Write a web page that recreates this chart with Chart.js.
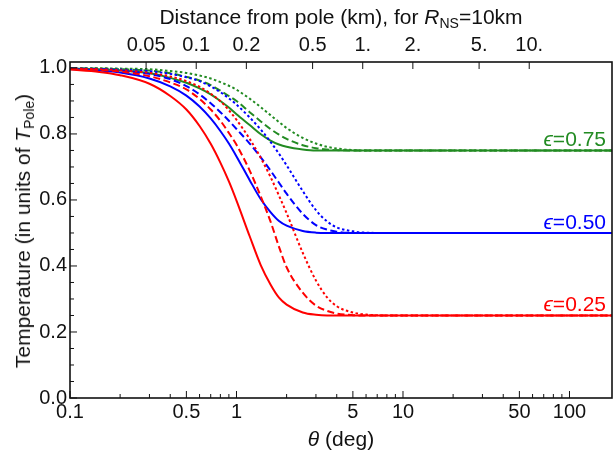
<!DOCTYPE html>
<html>
<head>
<meta charset="utf-8">
<script src="https://cdn.jsdelivr.net/npm/chart.js@4.4.1/dist/chart.umd.min.js"></script>
<style>
  body { margin: 0; background: #fff; }
  #wrap { position: relative; width: 613px; height: 451px; overflow: hidden; font-family: "Liberation Sans", Arial, sans-serif; color: #111; }
  canvas { position: absolute; left: 0; top: 0; }
  .title { position: absolute; font-size: 21px; white-space: nowrap; text-align: center; line-height: 24px; }
  .title sub { font-size: 14px; vertical-align: -4px; line-height: 0; }
  #top-title { left: 70px; width: 542px; top: 5px; }
  #bottom-title { left: 70px; width: 542px; top: 427px; }
  #left-title { left: 23px; top: 231px; transform: translate(-50%, -50%) rotate(-90deg); }
</style>
</head>
<body>
<div id="wrap">
  <canvas id="chart" width="613" height="451"></canvas>
  <div class="title" id="top-title">Distance from pole (km), for <i>R</i><sub>NS</sub>=10km</div>
  <div class="title" id="bottom-title"><i>θ</i> (deg)</div>
  <div class="title" id="left-title">Temperature (in units of <i>T</i><sub>Pole</sub>)</div>
</div>
<script>
// polar angle in degrees (shared by all curves)
const theta = [0.1, 0.15, 0.2, 0.3, 0.4, 0.5, 0.6, 0.7, 0.8, 0.9, 1, 1.2, 1.4, 1.6, 1.8, 2, 2.5, 3, 3.5, 4, 5, 6, 8, 10, 20, 50, 100, 180];

// eps = 0.25 (red)
const redSolid  = [0.995, 0.988, 0.978, 0.952, 0.915, 0.874, 0.824, 0.77, 0.713, 0.656, 0.598, 0.49, 0.402, 0.344, 0.304, 0.283, 0.259, 0.252, 0.25, 0.25, 0.25, 0.25, 0.25, 0.25, 0.25, 0.25, 0.25, 0.25];
const redDashed = [0.997, 0.994, 0.989, 0.975, 0.956, 0.935, 0.906, 0.874, 0.84, 0.803, 0.767, 0.689, 0.61, 0.535, 0.458, 0.396, 0.319, 0.28, 0.264, 0.256, 0.251, 0.25, 0.25, 0.25, 0.25, 0.25, 0.25, 0.25];
const redDotted = [0.998, 0.996, 0.993, 0.985, 0.974, 0.96, 0.943, 0.922, 0.899, 0.872, 0.843, 0.785, 0.727, 0.67, 0.613, 0.56, 0.44, 0.356, 0.305, 0.278, 0.259, 0.253, 0.25, 0.25, 0.25, 0.25, 0.25, 0.25];

// eps = 0.50 (blue)
const blueSolid  = [0.997, 0.992, 0.986, 0.968, 0.944, 0.916, 0.883, 0.847, 0.809, 0.771, 0.732, 0.66, 0.602, 0.563, 0.536, 0.522, 0.506, 0.501, 0.5, 0.5, 0.5, 0.5, 0.5, 0.5, 0.5, 0.5, 0.5, 0.5];
const blueDashed = [0.998, 0.996, 0.992, 0.982, 0.966, 0.945, 0.92, 0.893, 0.866, 0.84, 0.815, 0.771, 0.729, 0.689, 0.652, 0.619, 0.558, 0.524, 0.51, 0.504, 0.5, 0.5, 0.5, 0.5, 0.5, 0.5, 0.5, 0.5];
const blueDotted = [0.998, 0.997, 0.995, 0.99, 0.982, 0.972, 0.96, 0.944, 0.927, 0.908, 0.889, 0.85, 0.813, 0.776, 0.74, 0.705, 0.627, 0.569, 0.535, 0.517, 0.505, 0.501, 0.5, 0.5, 0.5, 0.5, 0.5, 0.5];

// eps = 0.75 (green)
const greenSolid  = [0.998, 0.996, 0.993, 0.984, 0.97, 0.955, 0.938, 0.92, 0.9, 0.88, 0.86, 0.827, 0.799, 0.78, 0.768, 0.761, 0.753, 0.75, 0.75, 0.75, 0.75, 0.75, 0.75, 0.75, 0.75, 0.75, 0.75, 0.75];
const greenDashed = [0.999, 0.998, 0.996, 0.992, 0.984, 0.973, 0.962, 0.948, 0.931, 0.915, 0.9, 0.866, 0.838, 0.815, 0.798, 0.785, 0.766, 0.757, 0.753, 0.751, 0.75, 0.75, 0.75, 0.75, 0.75, 0.75, 0.75, 0.75];
const greenDotted = [0.999, 0.999, 0.998, 0.996, 0.991, 0.985, 0.977, 0.968, 0.957, 0.946, 0.934, 0.907, 0.881, 0.857, 0.836, 0.818, 0.788, 0.771, 0.761, 0.756, 0.751, 0.75, 0.75, 0.75, 0.75, 0.75, 0.75, 0.75];

// axis ticks
const thetaTicks = [0.1, 0.5, 1, 5, 10, 50, 100];
const yTicks = [0, 0.2, 0.4, 0.6, 0.8, 1.0];
const kmTicks = [0.05, 0.1, 0.2, 0.5, 1, 2, 5, 10];
const kmLabels = ['0.05', '0.1', '0.2', '0.5', '1.', '2.', '5.', '10.'];
const R_NS = 10; // km

// curve labels
const epsValues = [0.75, 0.5, 0.25];
const epsLabels = ['0.75', '0.50', '0.25'];

const RED = '#ff0000', BLUE = '#0000ff', GREEN = '#228b22';
const epsColors = [GREEN, BLUE, RED];
const FONT = '"Liberation Sans", Arial, sans-serif';
const INK = '#111';

function kmToDeg(km) {
  return km / R_NS * 180 / Math.PI;
}

function makeSet(values, color, dash) {
  return {
    data: theta.map((t, i) => ({ x: t, y: values[i] })),
    borderColor: color,
    borderWidth: 2,
    borderDash: dash,
    pointRadius: 0,
    fill: false,
    cubicInterpolationMode: 'monotone',
    xAxisID: 'x',
    yAxisID: 'y'
  };
}

const DASH = [7, 3.5];
const DOT = [2.5, 2.5];

const datasets = [
  makeSet(redDotted, RED, DOT),
  makeSet(redDashed, RED, DASH),
  makeSet(redSolid, RED, []),
  makeSet(blueDotted, BLUE, DOT),
  makeSet(blueDashed, BLUE, DASH),
  makeSet(blueSolid, BLUE, []),
  makeSet(greenDotted, GREEN, DOT),
  makeSet(greenDashed, GREEN, DASH),
  makeSet(greenSolid, GREEN, [])
];

// all 1..9 x 10^n positions for the minor log ticks
function logMinor(min, max) {
  const out = [];
  for (let e = -1; e <= 2; e++) {
    for (let k = 1; k <= 9; k++) {
      const v = k * Math.pow(10, e);
      if (v >= min && v <= max && !thetaTicks.includes(v)) out.push(v);
    }
  }
  return out;
}

// frame, inward ticks and the eps labels
const framePlugin = {
  id: 'frame',
  afterDatasetsDraw(chart) {
    const ctx = chart.ctx;
    const a = chart.chartArea;
    const x = chart.scales.x, y = chart.scales.y;
    ctx.save();
    ctx.strokeStyle = INK;
    ctx.lineWidth = 1.6;
    ctx.strokeRect(a.left, a.top, a.right - a.left, a.bottom - a.top);

    ctx.lineWidth = 1;
    ctx.beginPath();
    thetaTicks.forEach(v => {
      const px = x.getPixelForValue(v);
      ctx.moveTo(px, a.bottom); ctx.lineTo(px, a.bottom - 7);
    });
    logMinor(0.1, 180).forEach(v => {
      const px = x.getPixelForValue(v);
      ctx.moveTo(px, a.bottom); ctx.lineTo(px, a.bottom - 4);
    });
    kmTicks.forEach(km => {
      const px = x.getPixelForValue(kmToDeg(km));
      ctx.moveTo(px, a.top); ctx.lineTo(px, a.top + 7);
    });
    for (let v = 0; v <= 1.0001; v += 0.05) {
      const py = y.getPixelForValue(v);
      const major = Math.abs(v * 5 - Math.round(v * 5)) < 1e-6;
      ctx.moveTo(a.left, py); ctx.lineTo(a.left + (major ? 7 : 4), py);
    }
    ctx.stroke();

    // eps labels, right aligned above each plateau
    ctx.textBaseline = 'alphabetic';
    epsValues.forEach((v, i) => {
      const py = y.getPixelForValue(v) - 4;
      let px = x.getPixelForValue(180) - 6;
      ctx.fillStyle = epsColors[i];
      ctx.font = '21px ' + FONT;
      ctx.textAlign = 'right';
      const rest = '=' + epsLabels[i];
      ctx.fillText(rest, px, py);
      px -= ctx.measureText(rest).width;
      ctx.font = 'italic 21px ' + FONT;
      ctx.fillText('\u03f5', px, py);
    });
    ctx.restore();
  }
};

new Chart(document.getElementById('chart'), {
  type: 'line',
  data: { datasets: datasets },
  options: {
    responsive: false,
    animation: false,
    devicePixelRatio: 1,
    layout: { padding: { left: 0, right: 1, top: 0, bottom: 0 } },
    plugins: { legend: { display: false }, tooltip: { enabled: false } },
    scales: {
      x: {
        type: 'logarithmic',
        position: 'bottom',
        min: 0.1,
        max: 180,
        grid: { display: false, drawTicks: false },
        border: { display: false },
        afterBuildTicks: scale => { scale.ticks = thetaTicks.map(v => ({ value: v })); },
        afterFit: scale => { scale.height = 53; },
        ticks: {
          autoSkip: false,
          maxRotation: 0,
          padding: 2,
          color: INK,
          font: { family: FONT, size: 20 },
          callback: v => String(v)
        }
      },
      x2: {
        type: 'logarithmic',
        position: 'top',
        min: 0.1,
        max: 180,
        grid: { display: false, drawTicks: false },
        border: { display: false },
        afterBuildTicks: scale => { scale.ticks = kmTicks.map(km => ({ value: kmToDeg(km) })); },
        afterFit: scale => { scale.height = 62; },
        ticks: {
          autoSkip: false,
          maxRotation: 0,
          padding: 5,
          color: INK,
          font: { family: FONT, size: 20 },
          callback: (v, i) => kmLabels[i]
        }
      },
      y: {
        min: 0,
        max: 1.018,
        grid: { display: false, drawTicks: false },
        border: { display: false },
        afterBuildTicks: scale => { scale.ticks = yTicks.map(v => ({ value: v })); },
        afterFit: scale => { scale.width = 70; },
        ticks: {
          padding: 3,
          color: INK,
          font: { family: FONT, size: 20 },
          callback: v => v.toFixed(1)
        }
      }
    }
  },
  plugins: [framePlugin]
});
</script>
</body>
</html>
